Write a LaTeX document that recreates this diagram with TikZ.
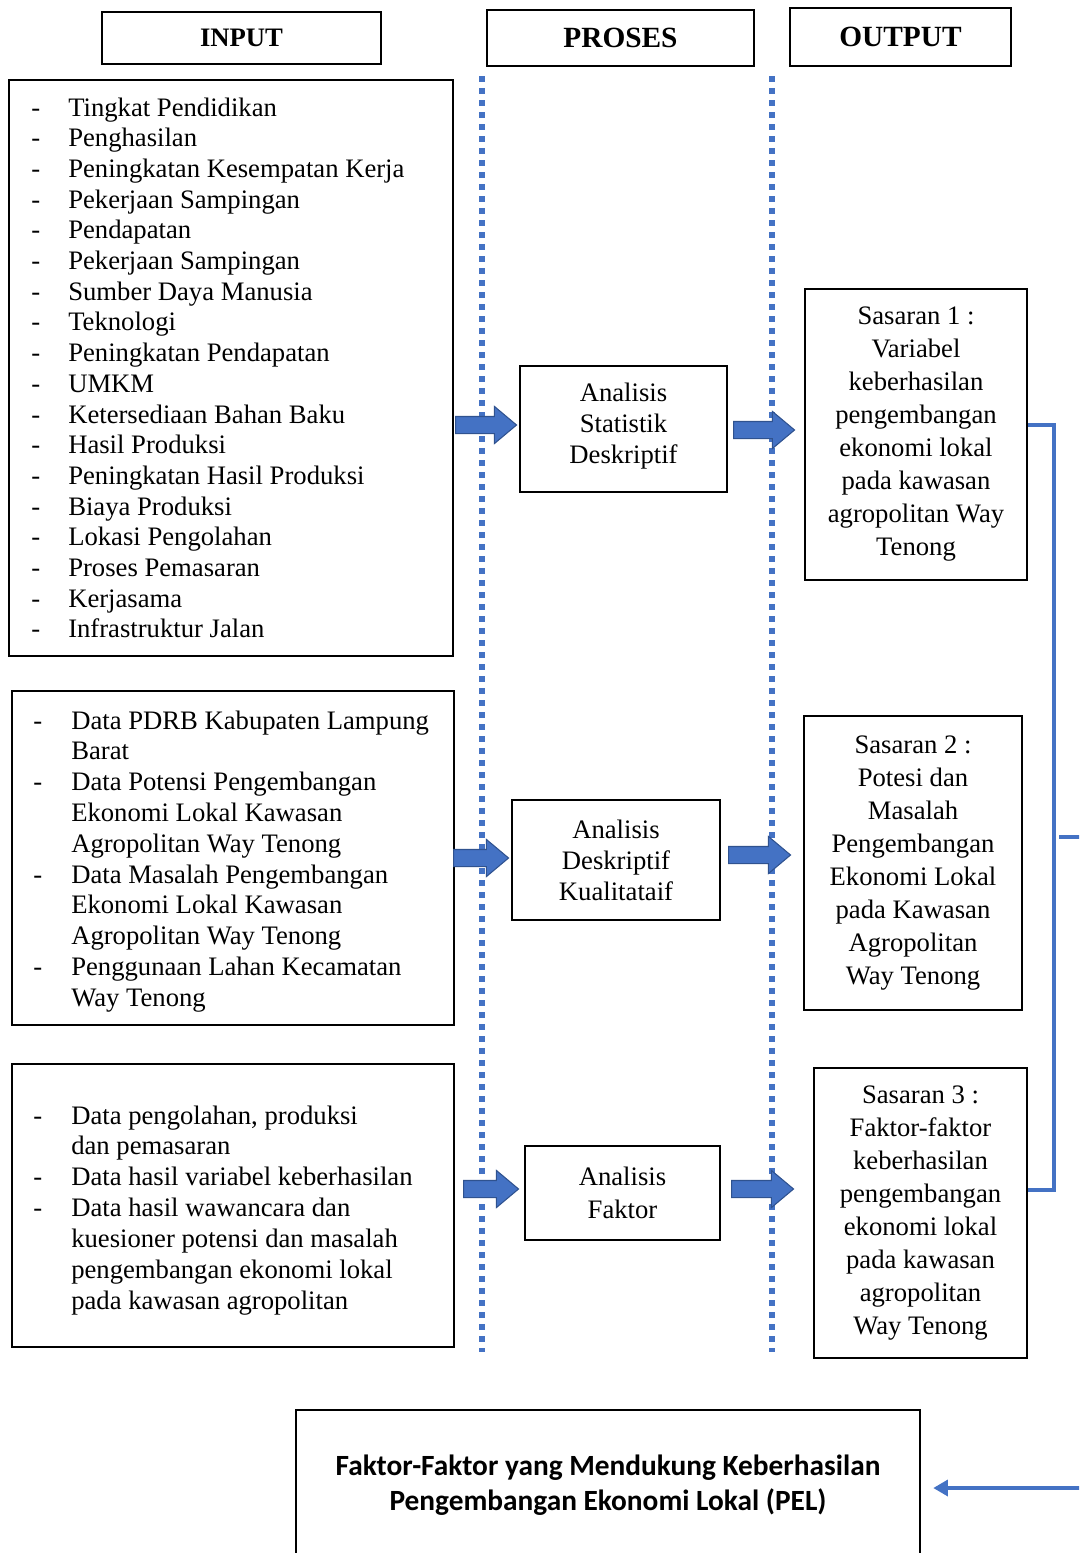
\documentclass[tikz,border=0pt]{standalone}
\usepackage{fontspec}
\setmainfont{Liberation Serif}
\newfontfamily\calib{Carlito}
\usetikzlibrary{fit,shapes.arrows,arrows.meta}
\definecolor{ablue}{HTML}{4472C4}
\definecolor{aedge}{HTML}{2F528F}
\begin{document}
\begin{tikzpicture}[x=0.75pt,y=-0.75pt,
  box/.style={draw, line width=1.9pt, inner sep=0pt},
  txt/.style={inner sep=0pt, align=center},
  hdrtxt/.style={txt, font=\bfseries\fontsize{22}{26}\selectfont},
  proctxt/.style={txt, font=\fontsize{20}{23.25}\selectfont},
  outtxt/.style={txt, font=\fontsize{20}{24.75}\selectfont},
  item/.style={anchor=base west, inner sep=0pt, font=\fontsize{20}{23}\selectfont},
  barrow/.style={single arrow, draw=aedge, fill=ablue, line width=0.8pt,
    inner xsep=0pt, inner ysep=6pt, single arrow head extend=7.5pt,
    single arrow tip angle=80, anchor=tail},
  dotline/.style={ablue, line width=4.5pt, dash pattern=on 4.5pt off 4.5pt},
  conn/.style={ablue, line width=2.3pt}]
\useasboundingbox (0,0) rectangle (1079,1553);
\clip (0,0) rectangle (1079,1553);

% headers
\node[box, fit={(102,12)(381,64)}] (h1) {};
\node[box, fit={(487,10)(754,66)}] (h2) {};
\node[box, fit={(790,8)(1011,66)}] (h3) {};
\node[hdrtxt, font=\bfseries\fontsize{20}{24}\selectfont] (h1t) at (h1.center) {INPUT};
\node[hdrtxt] (h2t) at (h2.center) {PROSES};
\node[hdrtxt] (h3t) at (h3.center) {OUTPUT};

% dotted separators
\draw[dotline] (482,76) -- (482,1352);
\draw[dotline] (772,76) -- (772,1352);

% input boxes
\node[box, fit={(9,80)(453,656)}] (i1) {};
\node[box, fit={(12,691)(454,1025)}] (i2) {};
\node[box, fit={(12,1064)(454,1347)}] (i3) {};

\foreach \t [count=\i from 0] in {Tingkat Pendidikan, Penghasilan,
  Peningkatan Kesempatan Kerja, Pekerjaan Sampingan, Pendapatan,
  Pekerjaan Sampingan, Sumber Daya Manusia, Teknologi,
  Peningkatan Pendapatan, UMKM, Ketersediaan Bahan Baku, Hasil Produksi,
  Peningkatan Hasil Produksi, Biaya Produksi, Lokasi Pengolahan,
  Proses Pemasaran, Kerjasama, Infrastruktur Jalan}
  {\node[item] (ta\i) at (68,{116+30.7*\i}) {\t};
   \node[item] (da\i) at (31,{116+30.7*\i}) {-};}

\foreach \t [count=\i from 0] in {Data PDRB Kabupaten Lampung, Barat,
  Data Potensi Pengembangan, Ekonomi Lokal Kawasan, Agropolitan Way Tenong,
  Data Masalah Pengembangan, Ekonomi Lokal Kawasan, Agropolitan Way Tenong,
  Penggunaan Lahan Kecamatan, Way Tenong}
  {\node[item] (tb\i) at (71,{729+30.8*\i}) {\t};}
\foreach \i in {0,2,5,8}
  {\node[item] (db\i) at (33,{729+30.8*\i}) {-};}

\foreach \t [count=\i from 0] in {{Data pengolahan, produksi}, dan pemasaran,
  Data hasil variabel keberhasilan, Data hasil wawancara dan,
  kuesioner potensi dan masalah, pengembangan ekonomi lokal,
  pada kawasan agropolitan}
  {\node[item] (tc\i) at (71,{1124+30.9*\i}) {\t};}
\foreach \i in {0,2,3}
  {\node[item] (dc\i) at (33,{1124+30.9*\i}) {-};}

% process boxes
\node[box, fit={(520,366)(727,492)}] (p1) {};
\node[box, fit={(512,800)(720,920)}] (p2) {};
\node[box, fit={(525,1146)(720,1240)}] (p3) {};
\node[proctxt] (p1t) at ([yshift=2pt]p1.center) {Analisis\\Statistik\\Deskriptif};
\node[proctxt] (p2t) at (p2.center) {Analisis\\Deskriptif\\Kualitataif};
\node[proctxt, font=\fontsize{20}{24.75}\selectfont] (p3t) at (p3.center) {Analisis\\Faktor};

% output boxes
\node[box, fit={(805,289)(1027,580)}] (o1) {};
\node[box, fit={(804,716)(1022,1010)}] (o2) {};
\node[box, fit={(814,1068)(1027,1358)}] (o3) {};
\node[outtxt] (o1t) at (o1.center) {Sasaran 1 :\\Variabel\\keberhasilan\\pengembangan\\ekonomi lokal\\pada kawasan\\agropolitan Way\\Tenong};
\node[outtxt] (o2t) at (o2.center) {Sasaran 2 :\\Potesi dan\\Masalah\\Pengembangan\\Ekonomi Lokal\\pada Kawasan\\Agropolitan\\Way Tenong};
\node[outtxt] (o3t) at (o3.center) {Sasaran 3 :\\Faktor-faktor\\keberhasilan\\pengembangan\\ekonomi lokal\\pada kawasan\\agropolitan\\Way Tenong};

% block arrows
\node[barrow, minimum height=45.75pt] (ar1) at (455,425) {};
\node[barrow, minimum height=45.75pt] (ar2) at (733,430) {};
\node[barrow, minimum height=41.25pt] (ar3) at (453,858) {};
\node[barrow, minimum height=46.5pt] (ar4) at (728,855) {};
\node[barrow, minimum height=41.25pt] (ar5) at (463,1189) {};
\node[barrow, minimum height=46.5pt] (ar6) at (731,1189) {};

% final box
\node[box, fit={(296,1410)(920,1580)}] (fin) {};
\node[font=\calib\bfseries\fontsize{22}{26.25}\selectfont, align=center, inner sep=0pt] (fint) at (608,1485)
  {Faktor-Faktor yang Mendukung Keberhasilan\\Pengembangan Ekonomi Lokal (PEL)};

% bracket connector
\coordinate (b1) at (1054,425);
\coordinate (b2) at (1054,1190);
\draw[conn] (o1.east |- b1) -- (b1) -- (b2) -- (o3.east |- b2);
\coordinate (t1) at (1059,837);
\coordinate (t2) at (1082,837);
\draw[conn] (t1) -- (t2);

% arrow to final box
\coordinate (a0) at (1082,1488);
\draw[conn, line width=2.6pt, shorten >=9pt, -{Triangle[length=11pt,width=12pt]}] (a0) -- (fin.east |- a0);
\end{tikzpicture}
\end{document}
